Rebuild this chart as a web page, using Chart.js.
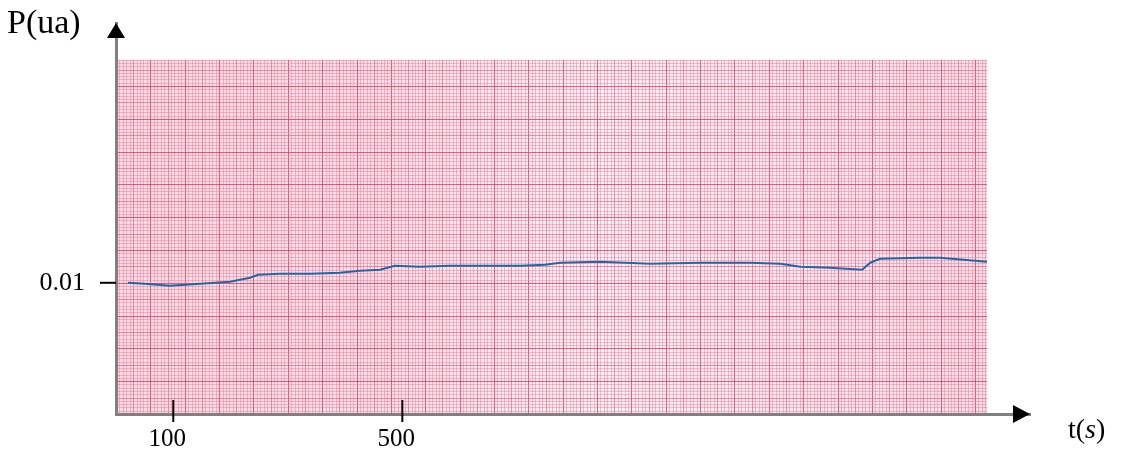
<!DOCTYPE html>
<html>
<head>
<meta charset="utf-8">
<script src="https://cdn.jsdelivr.net/npm/chart.js@4.4.1/dist/chart.umd.min.js"></script>
<style>
html,body{margin:0;padding:0;background:#fff;}
</style>
</head>
<body>
<canvas id="powerChart" width="1123" height="455"></canvas>
<script>
// time (s) and power (ua) readings
const times=[21,51,94,147,199,234,248,286,339,391,426,461,487,531,583,636,706,749,776,845,933,1020,1107,1160,1195,1247,1303,1317,1334,1404,1439,1500,1521];
const power=[0.0100,0.00992,0.00977,0.00992,0.01008,0.01038,0.01061,0.01069,0.01069,0.01076,0.01092,0.01099,0.01130,0.01122,0.01130,0.01130,0.01130,0.01137,0.01153,0.01160,0.01145,0.01153,0.01153,0.01145,0.01122,0.01115,0.01099,0.01153,0.01183,0.01191,0.01191,0.01168,0.01160];
const xTicks=[100,500];
const yTicks=[0.01];
const paperT=[0,1521];      // extent of the graph paper in t
const paperP=[0,0.0270];    // extent of the graph paper in P

const serif="'Liberation Serif','Times New Roman',serif";

const paperPlugin={
  id:'paper',
  beforeDraw(chart){
    const {ctx,scales:{x,y}}=chart;
    const x0=x.getPixelForValue(paperT[0]),x1=x.getPixelForValue(paperT[1]);
    const y0=y.getPixelForValue(paperP[0]),y1=y.getPixelForValue(paperP[1]);
    ctx.save();
    const g=ctx.createLinearGradient(x0,0,x1,0);
    g.addColorStop(0,'#fbdde5');
    g.addColorStop(0.3,'#fce0e8');
    g.addColorStop(0.55,'#fff2f6');
    g.addColorStop(0.75,'#fdeaf0');
    g.addColorStop(1,'#fce0e8');
    ctx.fillStyle=g;
    ctx.fillRect(x0,y1,x1-x0,y0-y1);
    ctx.lineWidth=1;
    const tone=i=>i%10===0?'rgba(228,44,86,0.75)':(i%5===0?'rgba(234,78,116,0.6)':'rgba(238,112,146,0.45)');
    // vertical rulings
    for(let i=0,t=paperT[0];t<=paperT[1];i++,t+=6){
      const px=Math.round(x.getPixelForValue(t))+0.5;
      ctx.strokeStyle=tone(i);
      ctx.beginPath();ctx.moveTo(px,y1);ctx.lineTo(px,y0);ctx.stroke();
    }
    // horizontal rulings
    for(let i=0;i*0.00025<=paperP[1]+1e-9;i++){
      const py=Math.round(y.getPixelForValue(i*0.00025))+0.5;
      ctx.strokeStyle=tone(i);
      ctx.beginPath();ctx.moveTo(x0,py);ctx.lineTo(x1,py);ctx.stroke();
    }
    ctx.restore();
  },
  afterDraw(chart){
    const {ctx,chartArea:a,scales:{x,y}}=chart;
    ctx.save();
    ctx.fillStyle='#000';
    ctx.strokeStyle='#000';
    ctx.lineWidth=2;
    // tick marks
    yTicks.forEach(v=>{
      const py=y.getPixelForValue(v);
      ctx.beginPath();ctx.moveTo(100,py);ctx.lineTo(a.left,py);ctx.stroke();
    });
    xTicks.forEach(v=>{
      const px=x.getPixelForValue(v);
      ctx.beginPath();ctx.moveTo(px,a.bottom-14);ctx.lineTo(px,a.bottom+8);ctx.stroke();
    });
    // arrow heads
    ctx.beginPath();
    ctx.moveTo(a.left,a.top);ctx.lineTo(a.left-9,a.top+15);ctx.lineTo(a.left+9,a.top+15);ctx.closePath();ctx.fill();
    ctx.beginPath();
    ctx.moveTo(a.right,a.bottom);ctx.lineTo(a.right-17,a.bottom-9);ctx.lineTo(a.right-17,a.bottom+9);ctx.closePath();ctx.fill();
    // axis names
    ctx.textBaseline='alphabetic';
    ctx.textAlign='left';
    ctx.font='34px '+serif;
    ctx.fillText('P(ua)',7,33);
    ctx.font='28px '+serif;
    let tx=1068;
    ctx.fillText('t(',tx,438);
    tx+=ctx.measureText('t(').width;
    ctx.font='italic 28px '+serif;
    ctx.fillText('s',tx,438);
    tx+=ctx.measureText('s').width;
    ctx.font='28px '+serif;
    ctx.fillText(')',tx,438);
    ctx.restore();
  }
};

new Chart(document.getElementById('powerChart'),{
  type:'line',
  data:{
    datasets:[{
      data:times.map((t,i)=>({x:t,y:power[i]})),
      borderColor:'#1a6aa8',
      borderWidth:2,
      pointRadius:0,
      tension:0,
      fill:false
    }]
  },
  options:{
    responsive:false,
    animation:false,
    devicePixelRatio:1,
    layout:{padding:{top:23,right:93,left:0,bottom:0}},
    plugins:{legend:{display:false},tooltip:{enabled:false}},
    scales:{
      x:{
        type:'linear',min:0,max:1596,
        afterBuildTicks:s=>{s.ticks=xTicks.map(v=>({value:v}));},
        afterFit:s=>{s.height=41;s.paddingLeft=0;s.paddingRight=0;},
        grid:{display:true,drawOnChartArea:false,drawTicks:false,color:'rgba(0,0,0,0)'},
        border:{display:true,color:'#808080',width:3},
        ticks:{padding:10,labelOffset:-6,color:'#000',autoSkip:false,maxRotation:0,font:{family:serif,size:25},callback:v=>String(v)}
      },
      y:{
        type:'linear',min:0,max:0.0298,
        afterBuildTicks:s=>{s.ticks=yTicks.map(v=>({value:v}));},
        afterFit:s=>{s.width=116;s.paddingTop=0;s.paddingBottom=0;},
        grid:{display:true,drawOnChartArea:false,drawTicks:false,color:'rgba(0,0,0,0)'},
        border:{display:true,color:'#808080',width:3},
        ticks:{padding:31,color:'#000',font:{family:serif,size:26},callback:v=>v.toFixed(2)}
      }
    }
  },
  plugins:[paperPlugin]
});
</script>
</body>
</html>
